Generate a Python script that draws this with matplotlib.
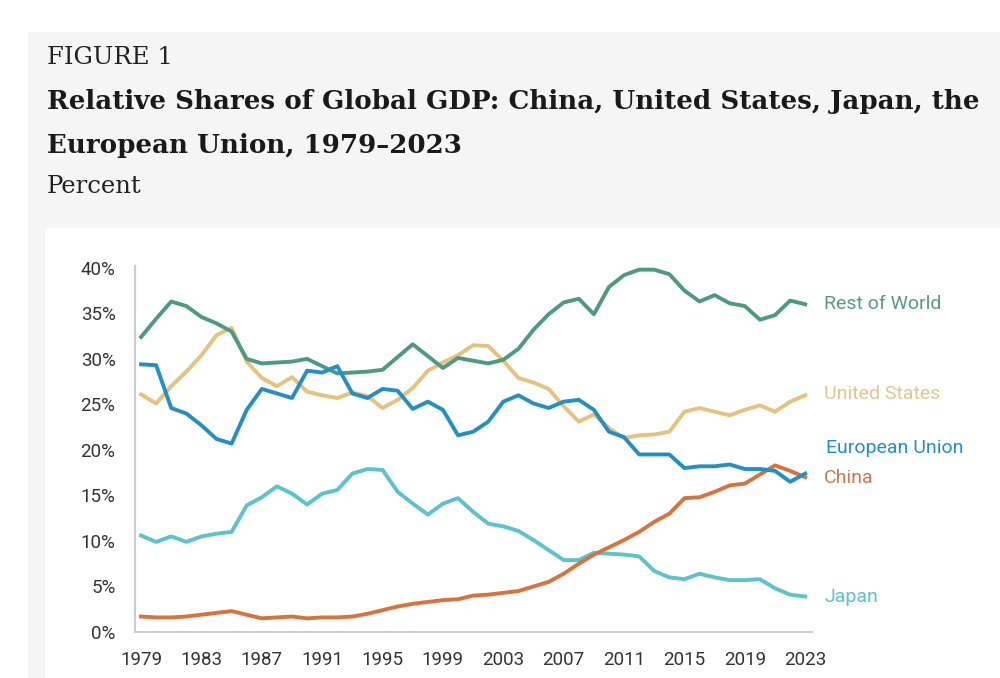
import matplotlib
matplotlib.use("Agg")
import matplotlib.pyplot as plt
from matplotlib.patches import Rectangle
import numpy as np

years = list(range(1979, 2024))

rest_of_world = [32.4, 34.4, 36.3, 35.8, 34.6, 33.9, 33.0, 30.0, 29.5, 29.6,
                 29.7, 30.0, 29.2, 28.4, 28.5, 28.6, 28.8, 30.2, 31.6, 30.3,
                 29.0, 30.1, 29.8, 29.5, 29.9, 31.1, 33.2, 34.9, 36.2, 36.6,
                 34.9, 37.9, 39.2, 39.8, 39.8, 39.3, 37.5, 36.3, 37.0, 36.1,
                 35.8, 34.3, 34.8, 36.4, 36.0]
united_states = [26.1, 25.1, 27.0, 28.6, 30.4, 32.6, 33.4, 29.7, 27.9, 27.0,
                 28.0, 26.4, 26.0, 25.7, 26.3, 25.9, 24.6, 25.5, 26.8, 28.7,
                 29.6, 30.4, 31.5, 31.4, 29.8, 27.9, 27.4, 26.7, 24.8, 23.1,
                 23.9, 22.4, 21.3, 21.6, 21.7, 22.0, 24.2, 24.6, 24.2, 23.8,
                 24.4, 24.9, 24.2, 25.3, 26.0]
european_union = [29.4, 29.3, 24.6, 24.0, 22.7, 21.2, 20.7, 24.4, 26.7, 26.2,
                  25.7, 28.7, 28.5, 29.2, 26.2, 25.7, 26.7, 26.5, 24.5, 25.3,
                  24.4, 21.6, 22.0, 23.1, 25.3, 26.0, 25.1, 24.6, 25.3, 25.5,
                  24.4, 22.0, 21.4, 19.5, 19.5, 19.5, 18.0, 18.2, 18.2, 18.4,
                  17.9, 17.9, 17.7, 16.5, 17.4]
japan = [10.6, 9.9, 10.5, 9.9, 10.5, 10.8, 11.0, 13.9, 14.8, 16.0,
         15.2, 14.0, 15.2, 15.6, 17.4, 17.9, 17.8, 15.4, 14.1, 12.9,
         14.1, 14.7, 13.2, 11.9, 11.6, 11.1, 10.1, 9.0, 7.9, 7.9,
         8.7, 8.6, 8.5, 8.3, 6.7, 6.0, 5.8, 6.4, 6.0, 5.7,
         5.7, 5.8, 4.8, 4.1, 3.9]
china = [1.7, 1.6, 1.6, 1.7, 1.9, 2.1, 2.3, 1.9, 1.5, 1.6,
         1.7, 1.5, 1.6, 1.6, 1.7, 2.0, 2.4, 2.8, 3.1, 3.3,
         3.5, 3.6, 4.0, 4.1, 4.3, 4.5, 5.0, 5.5, 6.4, 7.5,
         8.5, 9.3, 10.1, 11.0, 12.1, 13.0, 14.7, 14.8, 15.4, 16.1,
         16.3, 17.3, 18.3, 17.7, 17.0]

tick_years = list(range(1979, 2024, 4))
tick_pcts = list(range(0, 41, 5))

fig = plt.figure(figsize=(10, 6.78), dpi=100)
fig.patch.set_facecolor("white")
# grey page panel, then white chart panel
fig.patches.append(Rectangle((0.028, 0), 0.972, (678 - 32) / 678, transform=fig.transFigure,
                             facecolor="#f5f5f5", edgecolor="none", zorder=-2))
fig.patches.append(Rectangle((0.045, 0), 0.955, (678 - 228) / 678, transform=fig.transFigure,
                             facecolor="white", edgecolor="none", zorder=-1))

serif = "DejaVu Serif"
fig.text(0.047, 1 - 58 / 678, "FIGURE 1", family=serif, fontsize=17.5, color="#222222", va="center")
fig.text(0.047, 1 - 102 / 678, "Relative Shares of Global GDP: China, United States, Japan, the",
         family=serif, fontsize=18.8, fontweight="bold", color="#1a1a1a", va="center")
fig.text(0.047, 1 - 145 / 678, "European Union, 1979\u20132023",
         family=serif, fontsize=18.8, fontweight="bold", color="#1a1a1a", va="center")
fig.text(0.047, 1 - 187 / 678, "Percent", family=serif, fontsize=17.5, color="#222222", va="center")

ax = fig.add_axes([0.135, (678 - 632) / 678, 0.677, (632 - 266) / 678])
ax.set_facecolor("none")
ax.set_zorder(2)

lw = 2.8
ax.plot(years, united_states, color="#e6c27f", lw=lw)
ax.plot(years, rest_of_world, color="#4e9a80", lw=lw)
ax.plot(years, japan, color="#5bc3c9", lw=lw)
ax.plot(years, china, color="#d8733d", lw=lw)
ax.plot(years, european_union, color="#2490c2", lw=lw)

ax.set_xlim(1978.6, 2023.45)
ax.set_ylim(0, 40.2)
ax.set_xticks(tick_years)
ax.set_yticks(tick_pcts)
ax.set_yticklabels([f"{p}%" for p in tick_pcts])

for s in ["top", "right"]:
    ax.spines[s].set_visible(False)
for s in ["left", "bottom"]:
    ax.spines[s].set_color("#cccccc")
    ax.spines[s].set_linewidth(1.5)
ax.tick_params(length=0, labelsize=13.5, labelcolor="#333333", labelfontfamily="Roboto")
ax.tick_params(axis="y", pad=14)
ax.tick_params(axis="x", pad=14)

lab_x = 2024.25
fs = 14
ax.text(lab_x, 36.0, "Rest of World", color="#55998a", fontsize=fs, family="Roboto", va="center", clip_on=False)
ax.text(lab_x, 26.1, "United States", color="#e2c48e", fontsize=fs, family="Roboto", va="center", clip_on=False)
ax.text(lab_x + 0.1, 20.2, "European Union", color="#2490c2", fontsize=fs, family="Roboto", va="center", clip_on=False)
ax.text(lab_x, 16.9, "China", color="#c87a4e", fontsize=fs, family="Roboto", va="center", clip_on=False)
ax.text(lab_x, 3.85, "Japan", color="#5bc3c9", fontsize=fs, family="Roboto", va="center", clip_on=False)

fig.savefig("out.png", dpi=100)
